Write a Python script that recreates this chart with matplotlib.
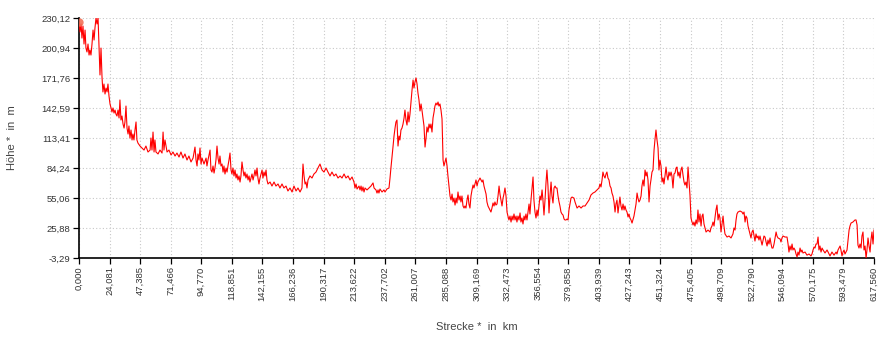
import matplotlib
matplotlib.use("Agg")
import matplotlib.pyplot as plt

# Elevation profile: distance along route (km) and height (m)
strecke_km = [
    0.0, 0.8, 1.6, 2.3, 3.1, 3.9, 4.7, 5.4, 6.2, 7.0, 7.8, 8.5, 9.3, 10.1, 10.9, 11.7, 12.4, 13.2, 14.0, 14.8,
    15.5, 16.3, 17.1, 17.9, 18.6, 19.4, 20.2, 21.0, 21.8, 22.5, 23.3, 24.1, 24.9, 25.6, 26.4, 27.2, 28.0, 28.7, 29.5, 30.3,
    31.1, 31.8, 32.6, 33.4, 34.2, 35.0, 35.7, 36.5, 37.3, 38.1, 38.8, 39.6, 40.4, 41.2, 41.9, 42.7, 43.5, 44.3, 45.0, 45.8,
    47.4, 48.9, 50.5, 52.0, 53.6, 55.2, 55.9, 56.7, 57.5, 58.3, 59.0, 59.8, 61.4, 62.9, 64.5, 65.3, 66.0, 66.8, 67.6, 68.4,
    69.9, 71.5, 73.0, 74.6, 76.1, 77.7, 79.2, 80.8, 82.3, 83.9, 85.4, 87.0, 88.6, 90.1, 90.9, 91.7, 92.4, 93.2, 94.0, 94.8,
    95.6, 97.1, 98.7, 99.4, 100.2, 101.8, 102.5, 103.3, 104.1, 104.9, 105.6, 106.4, 107.2, 108.0, 108.8, 109.5, 110.3, 111.1, 111.9, 112.6,
    113.4, 114.2, 115.0, 115.7, 116.5, 117.3, 118.1, 118.8, 119.6, 120.4, 121.2, 122.0, 122.7, 123.5, 124.3, 125.1, 125.8, 126.6, 127.4, 128.2,
    128.9, 129.7, 130.5, 131.3, 132.1, 132.8, 133.6, 134.4, 135.2, 135.9, 136.7, 137.5, 138.3, 139.0, 139.8, 140.6, 142.2, 142.9, 143.7, 144.5,
    145.3, 146.0, 146.8, 148.4, 149.9, 151.5, 153.0, 154.6, 156.1, 157.7, 159.2, 160.8, 162.3, 163.9, 165.5, 167.0, 168.6, 170.1, 171.7, 173.2,
    174.0, 174.8, 175.6, 176.3, 177.1, 177.9, 179.4, 181.0, 182.5, 184.1, 185.6, 187.2, 188.8, 190.3, 191.9, 193.4, 195.0, 196.5, 198.1, 199.6,
    201.2, 202.8, 204.3, 205.9, 207.4, 209.0, 210.5, 212.1, 213.6, 214.4, 215.2, 216.0, 217.5, 218.3, 219.1, 219.8, 220.6, 221.4, 222.2, 223.7,
    225.3, 226.8, 228.4, 229.2, 230.7, 231.5, 232.3, 233.0, 233.8, 235.4, 236.9, 237.7, 239.2, 240.8, 241.6, 242.3, 243.1, 243.9, 244.7, 245.5,
    246.2, 247.0, 247.8, 248.6, 249.3, 250.1, 250.9, 251.7, 252.5, 253.2, 254.0, 254.8, 255.6, 256.3, 257.1, 257.9, 258.7, 259.5, 260.2, 261.0,
    261.8, 262.6, 263.3, 264.1, 264.9, 265.7, 266.4, 267.2, 268.0, 268.8, 269.6, 270.3, 271.1, 271.9, 272.7, 273.4, 274.2, 275.0, 275.8, 276.5,
    277.3, 278.1, 278.9, 279.6, 280.4, 281.2, 282.0, 282.8, 283.5, 284.3, 285.1, 285.9, 286.6, 287.4, 288.2, 289.0, 289.8, 290.5, 291.3, 292.1,
    292.9, 293.6, 294.4, 295.2, 296.0, 296.7, 297.5, 298.3, 299.1, 299.8, 300.6, 301.4, 302.2, 302.9, 303.7, 304.5, 305.3, 306.1, 306.8, 308.4,
    309.2, 309.9, 310.7, 311.5, 312.3, 313.1, 313.8, 314.6, 315.4, 316.2, 316.9, 317.7, 318.5, 319.3, 320.0, 320.8, 321.6, 322.4, 323.1, 323.9,
    324.7, 325.5, 326.3, 327.0, 327.8, 328.6, 329.4, 330.1, 330.9, 331.7, 332.5, 333.2, 334.0, 334.8, 335.6, 336.4, 337.1, 337.9, 338.7, 339.5,
    340.2, 341.0, 341.8, 342.6, 343.3, 344.1, 344.9, 345.7, 346.4, 347.2, 348.0, 348.8, 349.6, 350.3, 351.1, 351.9, 352.7, 353.4, 354.2, 355.0,
    355.8, 356.5, 357.3, 358.1, 358.9, 359.7, 360.4, 361.2, 362.0, 362.8, 363.5, 364.3, 365.1, 365.9, 366.7, 367.4, 368.2, 369.0, 369.8, 370.5,
    371.3, 372.1, 372.9, 373.6, 374.4, 375.2, 376.0, 376.8, 377.5, 378.3, 379.1, 379.9, 380.6, 381.4, 382.2, 383.0, 384.5, 385.3, 386.9, 388.4,
    390.0, 391.5, 393.1, 394.6, 396.2, 397.7, 399.3, 400.8, 402.4, 403.9, 404.7, 405.5, 406.3, 407.0, 407.8, 408.6, 409.4, 410.1, 410.9, 411.7,
    412.5, 413.3, 414.0, 414.8, 415.6, 416.4, 417.1, 417.9, 418.7, 419.5, 420.2, 421.0, 421.8, 422.6, 423.4, 424.1, 424.9, 425.7, 426.5, 427.2,
    428.0, 428.8, 429.6, 430.3, 431.1, 431.9, 432.7, 433.5, 434.2, 435.0, 435.8, 436.6, 437.3, 438.1, 438.9, 439.7, 440.5, 441.2, 442.0, 442.8,
    443.6, 444.3, 445.1, 445.9, 446.7, 447.4, 448.2, 449.0, 449.8, 450.5, 451.3, 452.1, 452.9, 453.7, 454.4, 455.2, 456.0, 456.8, 457.5, 458.3,
    459.1, 459.9, 460.6, 461.4, 462.2, 463.0, 463.8, 464.5, 465.3, 466.1, 466.9, 467.6, 468.4, 469.2, 470.0, 470.7, 471.5, 472.3, 473.1, 473.8,
    474.6, 475.4, 476.2, 477.0, 477.7, 478.5, 479.3, 480.1, 480.8, 481.6, 482.4, 483.2, 484.0, 484.7, 485.5, 486.3, 487.1, 488.6, 490.2, 490.9,
    491.7, 492.5, 493.3, 494.0, 494.8, 495.6, 496.4, 497.2, 497.9, 498.7, 499.5, 500.3, 501.0, 501.8, 503.4, 504.9, 506.5, 508.0, 508.8, 509.6,
    510.4, 511.1, 511.9, 513.5, 515.0, 515.8, 516.6, 517.4, 518.1, 518.9, 519.7, 520.5, 521.2, 522.0, 522.8, 523.6, 524.4, 525.1, 525.9, 526.7,
    527.5, 528.2, 529.0, 530.6, 531.4, 532.1, 532.9, 533.7, 534.5, 535.2, 536.0, 536.8, 537.6, 538.3, 539.1, 539.9, 540.7, 541.5, 542.2, 543.0,
    544.6, 545.3, 546.1, 546.9, 548.4, 550.0, 550.8, 551.5, 552.3, 553.1, 553.9, 554.6, 555.4, 556.2, 557.0, 557.8, 558.5, 559.3, 560.1, 560.9,
    561.6, 562.4, 564.0, 565.5, 567.1, 568.6, 569.4, 570.2, 571.0, 571.7, 572.5, 573.3, 574.1, 574.8, 575.6, 576.4, 577.2, 578.0, 579.5, 581.1,
    582.6, 583.4, 584.9, 586.5, 588.1, 588.8, 589.6, 591.2, 591.9, 592.7, 593.5, 594.3, 595.0, 595.8, 596.6, 597.4, 598.2, 598.9, 599.7, 601.2,
    602.8, 603.6, 604.4, 605.1, 605.9, 606.7, 607.5, 608.2, 609.0, 609.8, 610.6, 611.4, 612.1, 612.9, 613.7, 614.5, 615.2, 616.0, 616.8, 617.56,
]

hoehe_m = [
    226.2, 216.5, 224.3, 210.6, 222.3, 204.8, 218.4, 200.9, 197.1, 204.8, 194.1, 199.0, 194.1, 204.8, 218.4, 208.7, 220.4, 230.1, 224.3, 230.1,
    203.9, 174.7, 200.9, 171.8, 158.2, 165.9, 156.2, 162.0, 158.2, 165.9, 154.2, 146.5, 142.6, 138.7, 142.6, 137.7, 140.6, 136.7, 134.8, 140.6,
    132.9, 150.4, 130.9, 134.8, 127.0, 123.1, 129.0, 144.5, 123.1, 117.3, 125.1, 113.4, 121.2, 111.5, 117.3, 111.5, 121.2, 129.0, 111.5, 108.5,
    105.6, 103.7, 101.7, 105.6, 99.8, 101.7, 113.4, 101.7, 119.2, 99.8, 111.5, 99.8, 97.9, 101.7, 98.8, 119.2, 101.7, 111.5, 105.6, 99.8,
    101.7, 96.9, 99.8, 95.9, 98.8, 94.9, 99.8, 93.9, 97.9, 92.0, 95.9, 90.1, 93.9, 104.6, 92.0, 86.2, 97.9, 92.0, 103.7, 88.1,
    93.9, 88.1, 93.9, 86.2, 92.0, 101.7, 82.3, 80.3, 86.2, 79.3, 84.2, 92.0, 105.6, 93.9, 88.1, 95.9, 86.2, 88.1, 80.3, 86.2,
    78.4, 84.2, 80.3, 86.2, 92.0, 98.8, 82.3, 78.4, 84.2, 76.5, 82.3, 74.5, 78.4, 72.6, 76.5, 70.6, 76.5, 90.1, 82.3, 76.5,
    80.3, 74.5, 78.4, 72.6, 76.5, 70.6, 74.5, 78.4, 72.6, 76.5, 82.3, 76.5, 84.2, 74.5, 68.7, 74.5, 82.3, 74.5, 80.3, 76.5,
    82.3, 72.6, 68.7, 70.6, 66.7, 70.6, 66.7, 68.7, 64.8, 68.7, 64.8, 66.7, 61.9, 64.8, 60.9, 66.7, 61.9, 64.8, 60.9, 64.8,
    88.1, 76.5, 68.7, 70.6, 64.8, 72.6, 76.5, 74.5, 78.4, 80.3, 84.2, 88.1, 82.3, 80.3, 84.2, 80.3, 76.5, 80.3, 76.5, 78.4,
    74.5, 76.5, 74.5, 78.4, 74.5, 76.5, 72.6, 75.5, 70.6, 64.8, 68.7, 63.8, 66.7, 62.9, 66.7, 61.9, 65.8, 60.9, 64.8, 62.9,
    64.8, 66.7, 69.7, 64.8, 62.9, 59.9, 62.9, 59.9, 63.8, 60.9, 62.9, 60.9, 63.8, 64.8, 74.5, 84.2, 93.9, 104.6, 115.3, 123.1,
    129.0, 130.9, 105.6, 115.3, 111.5, 121.2, 123.1, 127.0, 132.9, 140.6, 130.9, 126.0, 138.7, 129.0, 136.7, 148.4, 160.1, 169.8, 162.0, 167.9,
    171.8, 165.9, 157.2, 150.4, 139.7, 146.5, 140.6, 132.9, 125.1, 104.6, 113.4, 124.1, 119.2, 127.0, 123.1, 127.0, 119.2, 132.9, 138.7, 144.5,
    147.4, 145.5, 148.4, 144.5, 146.5, 140.6, 131.9, 92.0, 86.2, 90.1, 93.9, 86.2, 76.5, 66.7, 57.0, 53.1, 58.9, 51.2, 55.0, 48.2,
    55.0, 50.2, 60.9, 53.1, 57.0, 51.2, 57.0, 47.3, 45.3, 47.3, 45.3, 53.1, 58.0, 49.2, 45.3, 57.0, 62.9, 67.7, 64.8, 72.6,
    66.7, 70.6, 72.6, 74.5, 72.6, 70.6, 72.6, 66.7, 62.9, 58.9, 51.2, 47.3, 45.3, 43.4, 41.4, 45.3, 50.2, 47.3, 51.2, 48.2,
    49.2, 57.0, 66.7, 58.9, 53.1, 47.3, 55.0, 58.9, 64.8, 57.0, 41.4, 37.5, 33.7, 37.5, 31.7, 37.5, 33.7, 39.5, 33.7, 37.5,
    31.7, 37.5, 33.7, 40.5, 31.7, 35.6, 29.8, 37.5, 33.7, 39.5, 33.7, 41.4, 49.2, 39.5, 53.1, 63.8, 75.5, 53.1, 41.4, 35.6,
    43.4, 37.5, 47.3, 57.0, 53.1, 62.9, 53.1, 38.5, 53.1, 70.6, 82.3, 66.7, 40.5, 58.0, 70.6, 57.0, 50.2, 64.8, 66.7, 64.8,
    64.8, 57.0, 51.2, 47.3, 41.4, 39.5, 38.5, 34.6, 33.7, 33.7, 34.6, 33.7, 43.4, 49.2, 55.0, 56.0, 55.0, 51.2, 45.3, 47.3,
    45.3, 47.3, 47.3, 50.2, 53.1, 58.0, 59.9, 60.9, 62.9, 64.8, 68.7, 65.8, 72.6, 80.3, 76.5, 74.5, 78.4, 80.3, 74.5, 72.6,
    66.7, 64.8, 59.9, 57.0, 51.2, 41.4, 49.2, 53.1, 40.5, 49.2, 56.0, 47.3, 43.4, 49.2, 43.4, 47.3, 43.4, 41.4, 36.6, 39.5,
    35.6, 33.7, 30.7, 33.7, 37.5, 43.4, 49.2, 59.9, 55.0, 51.2, 53.1, 57.0, 66.7, 72.6, 66.7, 82.3, 76.5, 80.3, 72.6, 51.2,
    66.7, 72.6, 80.3, 82.3, 101.7, 111.5, 121.2, 111.5, 103.7, 82.3, 92.0, 86.2, 70.6, 74.5, 68.7, 76.5, 85.2, 76.5, 72.6, 80.3,
    76.5, 80.3, 76.5, 64.8, 78.4, 79.4, 84.2, 85.2, 76.5, 80.3, 74.5, 82.3, 85.2, 77.4, 70.6, 67.7, 70.6, 64.8, 85.2, 72.6,
    58.0, 35.6, 31.7, 28.8, 31.7, 27.8, 33.7, 29.8, 43.4, 31.7, 39.5, 27.8, 37.5, 39.5, 29.8, 25.9, 22.0, 23.9, 22.0, 25.9,
    27.8, 31.7, 27.8, 35.6, 43.4, 48.2, 33.7, 39.5, 35.6, 22.0, 29.8, 37.5, 27.8, 20.1, 17.1, 18.1, 16.2, 20.1, 25.9, 23.9,
    33.7, 39.5, 41.4, 42.4, 41.4, 39.5, 41.4, 31.7, 37.5, 35.6, 27.8, 23.9, 20.1, 16.2, 22.0, 23.9, 18.1, 13.2, 20.1, 16.2,
    18.1, 14.2, 18.1, 9.3, 14.2, 18.1, 17.1, 12.3, 8.4, 14.2, 10.3, 16.2, 10.3, 6.4, 6.4, 10.3, 16.2, 22.0, 18.1, 16.2,
    15.2, 12.3, 16.2, 18.1, 17.1, 17.1, 10.3, 2.5, 8.4, 4.5, 10.3, 4.5, 6.4, 4.5, 0.6, -2.3, 2.5, -0.5, 6.4, 2.5,
    4.5, 1.6, 2.5, -0.5, 0.6, -1.3, 0.6, 4.5, 7.4, 6.4, 10.3, 10.3, 17.1, 4.5, 8.4, 2.5, 6.4, 4.5, 1.6, 4.5,
    0.6, -1.3, 2.5, -0.5, 2.5, 0.6, 4.5, 8.4, 4.5, -1.3, 2.5, 4.5, 0.6, 2.5, 4.5, 14.2, 23.9, 27.8, 30.7, 31.7,
    33.7, 33.7, 28.8, 9.3, 6.4, 10.3, 6.4, 18.1, 22.0, 4.5, 8.4, -3.3, 4.5, 16.2, 8.4, 2.5, 14.2, 22.0, 10.3, 23.9,
]

x_ticks = [0.000, 24.081, 47.385, 71.466, 94.770, 118.851, 142.155, 166.236, 190.317,
           213.622, 237.702, 261.007, 285.088, 309.169, 332.473, 356.554, 379.858,
           403.939, 427.243, 451.324, 475.405, 498.709, 522.790, 546.094, 570.175,
           593.479, 617.560]
y_ticks = [-3.29, 25.88, 55.06, 84.24, 113.41, 142.59, 171.76, 200.94, 230.12]

x_labels = [f"{v:.3f}".replace(".", ",") for v in x_ticks]
y_labels = [f"{v:.2f}".replace(".", ",") for v in y_ticks]

plt.rcParams["font.family"] = ["Liberation Sans", "DejaVu Sans"]

fig = plt.figure(figsize=(8.92, 3.39), dpi=100)
ax = fig.add_axes([79 / 892, 1 - 258 / 339, 795 / 892, 240 / 339])

ax.plot(strecke_km, hoehe_m, color="#ff0000", linewidth=0.8, zorder=3)
ax.plot([strecke_km[0]], [hoehe_m[0]], "o", color="#f26a4f", markersize=6,
        alpha=0.85, markeredgewidth=0, zorder=4)

ax.set_xlim(x_ticks[0], x_ticks[-1])
ax.set_ylim(y_ticks[0], y_ticks[-1])
ax.set_xticks(x_ticks)
ax.set_xticklabels(x_labels, rotation=90, fontsize=6.8, color="#333333")
ax.set_yticks(y_ticks)
ax.set_yticklabels(y_labels, fontsize=6.8, color="#333333")
ax.tick_params(axis="both", direction="out", length=4, width=0.9, color="black", pad=2)

ax.grid(True, linestyle=(0, (1, 2)), color="#c8c8c8", linewidth=0.8, zorder=0)
for side in ("top", "right"):
    ax.spines[side].set_visible(False)
for side in ("left", "bottom"):
    ax.spines[side].set_color("black")
    ax.spines[side].set_linewidth(1.2)

ax.set_ylabel("Höhe *  in  m", fontsize=8, color="#444444", labelpad=17.5)
ax.set_xlabel("Strecke *  in  km", fontsize=8, color="#444444", labelpad=15)

fig.savefig("out.png", dpi=100)
